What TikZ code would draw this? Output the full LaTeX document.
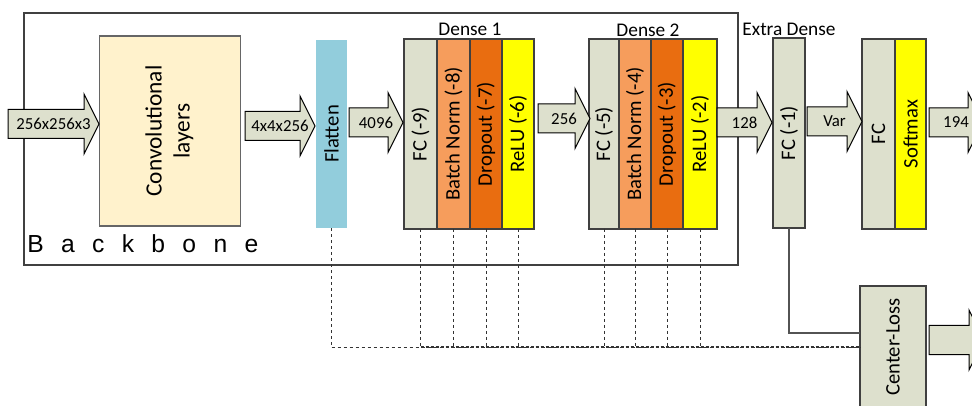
\documentclass[tikz,border=0pt]{standalone}
\usepackage{fontspec}
\setmainfont{Carlito}
\newfontfamily\arialfont{Liberation Sans}
\usepackage{graphicx}
\definecolor{fcgreen}{HTML}{DDE0CD}
\definecolor{bnorange}{HTML}{F69D5C}
\definecolor{doorange}{HTML}{E96D10}
\definecolor{reluyellow}{HTML}{FFFF00}
\definecolor{flatblue}{HTML}{92CDDC}
\definecolor{convbeige}{HTML}{FFF2CC}
\definecolor{edge}{HTML}{404040}
\newcommand\lblfont{\fontsize{15.5}{18}\selectfont}
\newcommand\ttlfont{\fontsize{14.5}{17}\selectfont}
\newcommand\arrfont{\fontsize{12.6}{15}\selectfont}
\newcommand\barrow[5]{%
  \draw[arrowsty] (#2,#4-14.5) -- (#3,#4-14.5) -- (#3,#4-30) -- (#3+15,#4)
    -- (#3,#4+30) -- (#3,#4+14.5) -- (#2,#4+14.5) -- cycle;
  \node[albl] (#1) at ({(#2+#3+15)/2},#4) {#5};}
\begin{document}
\begin{tikzpicture}[x=0.75pt,y=-0.75pt,
  layer/.style={draw=edge,line width=0.8pt,inner sep=0pt,outer sep=0pt,
    minimum height=142.5pt,font=\lblfont},
  arrowsty/.style={draw=black,line width=0.75pt,fill=fcgreen,line join=miter},
  albl/.style={inner sep=0pt,font=\arrfont},
  title/.style={inner sep=0pt,font=\ttlfont},
  tap/.style={draw=black!80,line width=0.75pt,dash pattern=on 2.25pt off 2.25pt},
]
\useasboundingbox (0,0) rectangle (972,406);
\clip (0,0) rectangle (972,406);
\fill[white] (0,0) rectangle (972,406);

% backbone frame
\draw[edge,line width=0.8pt] (24,13) rectangle (738,265);
\node[anchor=base west,inner sep=0pt,font=\arialfont\fontsize{18.5}{21}\selectfont] (bb) at (27,253)
  {B\hspace{13pt}a\hspace{13pt}c\hspace{13pt}k\hspace{13pt}b\hspace{13pt}o\hspace{13pt}n\hspace{13pt}e};

% blocks
\node[draw=edge!80,line width=0.8pt,fill=convbeige,inner sep=0pt,minimum width=105.75pt,minimum height=142.5pt,
  font=\fontsize{17.5}{21}\selectfont] (conv) at (170,131)
  {\rotatebox{90}{\begin{tabular}{@{}c@{}}Convolutional\\layers\end{tabular}}};
\node[fill=flatblue,inner sep=0pt,minimum width=23.25pt,minimum height=141pt,font=\lblfont] (flat) at (331.5,134)
  {\rotatebox{90}{Flatten}};

\node[layer,fill=fcgreen,minimum width=24.75pt] (fc9) at (420.5,134) {\rotatebox{90}{FC (-9)}};
\node[layer,fill=bnorange,minimum width=24.75pt] (bn8) at (453.5,134) {\rotatebox{90}{Batch Norm (-8)}};
\node[layer,fill=doorange,minimum width=24pt] (do7) at (486,134) {\rotatebox{90}{Dropout (-7)}};
\node[layer,fill=reluyellow,minimum width=24pt] (re6) at (518,134) {\rotatebox{90}{ReLU (-6)}};
\node[title] (d1) at (470,29.5) {Dense 1};

\node[layer,fill=fcgreen,minimum width=22.5pt] (fc5) at (604,134) {\rotatebox{90}{FC (-5)}};
\node[layer,fill=bnorange,minimum width=24pt] (bn4) at (635,134) {\rotatebox{90}{Batch Norm (-4)}};
\node[layer,fill=doorange,minimum width=24pt] (do3) at (667,134) {\rotatebox{90}{Dropout (-3)}};
\node[layer,fill=reluyellow,minimum width=25.5pt] (re2) at (700,134) {\rotatebox{90}{ReLU (-2)}};
\node[title] (d2) at (648,30.5) {Dense 2};

\node[layer,fill=fcgreen,minimum width=24pt] (fc1) at (789,133) {\rotatebox{90}{FC (-1)}};
\node[title] (ed) at (789,29.5) {Extra Dense};

\node[layer,fill=fcgreen,minimum width=24.75pt] (fc) at (878.5,134) {\rotatebox{90}{FC}};
\node[layer,fill=reluyellow,minimum width=23.25pt] (sm) at (910.5,134) {\rotatebox{90}{Softmax}};

\node[layer,fill=fcgreen,minimum width=49.5pt,minimum height=91.5pt] (cl) at (893,347) {\rotatebox{90}{Center-Loss}};

% block arrows
\barrow{a0}{8}{84}{124}{256x256x3}
\barrow{a1}{245}{300}{126}{4x4x256}
\barrow{a2}{349}{388}{122.5}{4096}
\barrow{a3}{538}{575}{118.5}{256}
\barrow{a4}{717}{757}{122.5}{128}
\barrow{a5}{807}{847}{121.5}{Var}
\barrow{a6}{929}{968}{122.5}{194}
\barrow{a7}{929}{969}{340}{}

% solid connector FC(-1) -> Center-Loss
\draw[edge!90,line width=0.8pt] (fc1.south) |- ([yshift=10.5pt]cl.west);

% dashed taps
\coordinate (busL) at (flat.south |- cl.west);
\coordinate (busM) at (fc9.south |- cl.west);
\foreach \n in {flat,fc9,bn8,do7,re6,fc5,bn4,do3,re2}
  \draw[tap] (\n.south) -- (\n.south |- cl.west);
\draw[tap] (busL) -- (cl.west);
\draw[tap,line width=1.3pt,dash pattern=on 2.25pt off 1.5pt] (busM) -- (cl.west);
\end{tikzpicture}
\end{document}
